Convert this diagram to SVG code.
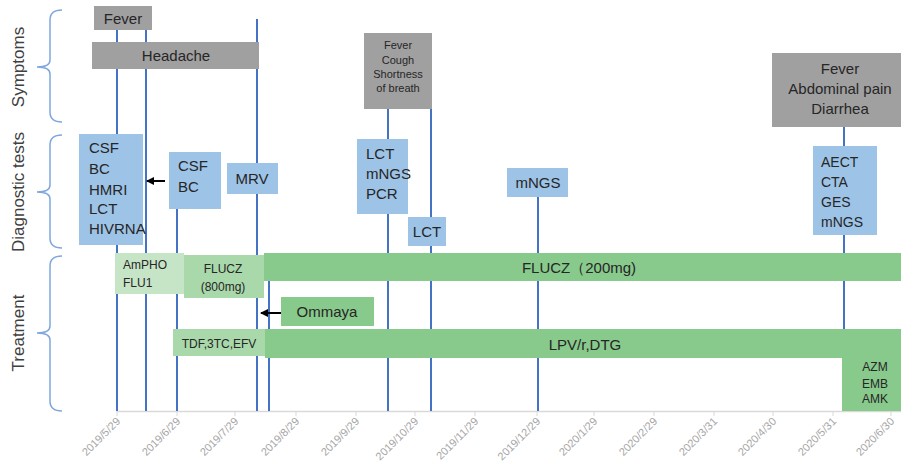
<svg xmlns="http://www.w3.org/2000/svg" width="901" height="466" viewBox="0 0 901 466">
<defs>
<style>
text{font-family:"Liberation Sans","Noto Sans",Arial,sans-serif;fill:#262626}
.sym{fill:#a0a0a0}
.dx{fill:#9dc3e6}
.g1{fill:#c6e4c6}
.g2{fill:#a9d8aa}
.g3{fill:#88c98c}
.vl{stroke:#4472c4;stroke-width:2;fill:none}
.br{stroke:#7ea7de;stroke-width:1.5;fill:none}
.lab{font-size:17px;fill:#404040}
.dt{font-size:11px;fill:#a6a6a6}
.t15{font-size:15px}
.t14{font-size:14px}
.t12{font-size:12px}
.t11{font-size:11px}
</style>
<marker id="ah" markerWidth="8" markerHeight="8" refX="7" refY="4" orient="auto" markerUnits="userSpaceOnUse">
<path d="M0,0 L8,4 L0,8 Z" fill="#000"/>
</marker>
</defs>
<rect width="901" height="466" fill="#fff"/>

<g id="section-labels">
<text class="lab" transform="translate(24,67) rotate(-90)" text-anchor="middle">Symptoms</text>
<text class="lab" transform="translate(24,192) rotate(-90)" text-anchor="middle">Diagnostic tests</text>
<text class="lab" transform="translate(24,333) rotate(-90)" text-anchor="middle">Treatment</text>
<path class="br" d="M62,10 Q50,10 50,20 L50,60 Q50,67 37,67 Q50,67 50,74 L50,112 Q50,122 62,122"/>
<path class="br" d="M62,135 Q50,135 50,145 L50,185 Q50,192 37,192 Q50,192 50,199 L50,238 Q50,248 62,248"/>
<path class="br" d="M62,256 Q50,256 50,266 L50,326 Q50,333 37,333 Q50,333 50,340 L50,401 Q50,411 62,411"/>
</g>

<g id="axis">
<line x1="117" y1="411.5" x2="901" y2="411.5" stroke="#d9d9d9" stroke-width="1.5"/>
<g stroke="#d9d9d9" stroke-width="1">
<line x1="117" y1="411" x2="117" y2="416"/><line x1="177" y1="411" x2="177" y2="416"/><line x1="235" y1="411" x2="235" y2="416"/><line x1="296" y1="411" x2="296" y2="416"/><line x1="356" y1="411" x2="356" y2="416"/><line x1="415" y1="411" x2="415" y2="416"/><line x1="475" y1="411" x2="475" y2="416"/><line x1="537" y1="411" x2="537" y2="416"/><line x1="594" y1="411" x2="594" y2="416"/><line x1="654" y1="411" x2="654" y2="416"/><line x1="714" y1="411" x2="714" y2="416"/><line x1="773" y1="411" x2="773" y2="416"/><line x1="833" y1="411" x2="833" y2="416"/><line x1="891" y1="411" x2="891" y2="416"/>
</g>
<text class="dt" text-anchor="end" transform="translate(121,422) rotate(-45)">2019/5/29</text>
<text class="dt" text-anchor="end" transform="translate(181,422) rotate(-45)">2019/6/29</text>
<text class="dt" text-anchor="end" transform="translate(239,422) rotate(-45)">2019/7/29</text>
<text class="dt" text-anchor="end" transform="translate(300,422) rotate(-45)">2019/8/29</text>
<text class="dt" text-anchor="end" transform="translate(360,422) rotate(-45)">2019/9/29</text>
<text class="dt" text-anchor="end" transform="translate(419,422) rotate(-45)">2019/10/29</text>
<text class="dt" text-anchor="end" transform="translate(479,422) rotate(-45)">2019/11/29</text>
<text class="dt" text-anchor="end" transform="translate(541,422) rotate(-45)">2019/12/29</text>
<text class="dt" text-anchor="end" transform="translate(598,422) rotate(-45)">2020/1/29</text>
<text class="dt" text-anchor="end" transform="translate(658,422) rotate(-45)">2020/2/29</text>
<text class="dt" text-anchor="end" transform="translate(718,422) rotate(-45)">2020/3/31</text>
<text class="dt" text-anchor="end" transform="translate(777,422) rotate(-45)">2020/4/30</text>
<text class="dt" text-anchor="end" transform="translate(837,422) rotate(-45)">2020/5/31</text>
<text class="dt" text-anchor="end" transform="translate(895,422) rotate(-45)">2020/6/30</text>
</g>

<g id="connectors">
<line class="vl" x1="117" y1="30" x2="117" y2="411"/>
<line class="vl" x1="146" y1="30" x2="146" y2="411"/>
<line class="vl" x1="177" y1="209" x2="177" y2="411"/>
<line class="vl" x1="257" y1="19" x2="257" y2="411"/>
<line class="vl" x1="269" y1="253" x2="269" y2="411"/>
<line class="vl" x1="388" y1="109" x2="388" y2="411"/>
<line class="vl" x1="431" y1="109" x2="431" y2="411"/>
<line class="vl" x1="538" y1="197" x2="538" y2="411"/>
<line class="vl" x1="844" y1="127" x2="844" y2="411"/>
<line x1="165" y1="181" x2="147" y2="181" stroke="#000" stroke-width="2" marker-end="url(#ah)"/>
<line x1="281" y1="313" x2="261" y2="313" stroke="#000" stroke-width="2" marker-end="url(#ah)"/>
</g>

<g id="fever1"><rect class="sym" x="94" y="6" width="58" height="24"/><text class="t15" x="123" y="24" text-anchor="middle">Fever</text></g>
<g id="headache"><rect class="sym" x="92" y="42" width="167" height="27"/><text class="t15" x="176" y="61" text-anchor="middle">Headache</text></g>
<g id="fever2"><rect class="sym" x="364" y="33" width="68" height="76"/>
<text class="t11" x="398" y="49" text-anchor="middle">Fever</text>
<text class="t11" x="398" y="64" text-anchor="middle">Cough</text>
<text class="t11" x="398" y="78" text-anchor="middle">Shortness</text>
<text class="t11" x="398" y="92" text-anchor="middle">of breath</text></g>
<g id="fever3"><rect class="sym" x="772" y="53" width="129" height="74"/>
<text class="t15" x="840" y="74" text-anchor="middle">Fever</text>
<text class="t15" x="840" y="94" text-anchor="middle">Abdominal pain</text>
<text class="t15" x="840" y="114" text-anchor="middle">Diarrhea</text></g>

<g id="dx1"><rect class="dx" x="79" y="134" width="64" height="111"/>
<text class="t15" x="89" y="153">CSF</text>
<text class="t15" x="89" y="174">BC</text>
<text class="t15" x="89" y="195">HMRI</text>
<text class="t15" x="89" y="214">LCT</text>
<text class="t15" x="89" y="234">HIVRNA</text></g>
<g id="dx2"><rect class="dx" x="169" y="152" width="52" height="57"/>
<text class="t15" x="178" y="171">CSF</text>
<text class="t15" x="178" y="192">BC</text></g>
<g id="dx3"><rect class="dx" x="227" y="163" width="51" height="31"/><text class="t15" x="252" y="184" text-anchor="middle">MRV</text></g>
<g id="dx4"><rect class="dx" x="357" y="139" width="51" height="75"/>
<text class="t15" x="366" y="159">LCT</text>
<text class="t15" x="366" y="179">mNGS</text>
<text class="t15" x="366" y="199">PCR</text></g>
<g id="dx5"><rect class="dx" x="408" y="217" width="38" height="29"/><text class="t15" x="427" y="237" text-anchor="middle">LCT</text></g>
<g id="dx6"><rect class="dx" x="507" y="168" width="61" height="29"/><text class="t15" x="538" y="188" text-anchor="middle">mNGS</text></g>
<g id="dx7"><rect class="dx" x="813" y="146" width="64" height="89"/>
<text class="t14" x="821" y="167">AECT</text>
<text class="t14" x="821" y="187">CTA</text>
<text class="t14" x="821" y="207">GES</text>
<text class="t14" x="821" y="227">mNGS</text></g>

<g id="tx-flucz200"><rect class="g3" x="264" y="253" width="637" height="28"/><text class="t15" x="579" y="273" text-anchor="middle">FLUCZ（200mg)</text></g>
<g id="tx-ampho"><rect class="g1" x="115" y="253" width="69" height="41"/>
<text class="t12" x="123" y="269">AmPHO</text>
<text class="t12" x="123" y="287">FLU1</text></g>
<g id="tx-flucz800"><rect class="g2" x="184" y="255" width="80" height="43"/>
<text class="t12" x="223" y="273" text-anchor="middle">FLUCZ</text>
<text class="t12" x="223" y="291" text-anchor="middle">(800mg)</text></g>
<g id="tx-ommaya"><rect class="g3" x="281" y="297" width="93" height="29"/><text class="t15" x="327" y="317" text-anchor="middle">Ommaya</text></g>
<g id="tx-tdf"><rect class="g2" x="173" y="329" width="92" height="27"/><text class="t12" x="219" y="348" text-anchor="middle">TDF,3TC,EFV</text></g>
<g id="tx-lpv"><rect class="g3" x="265" y="329" width="636" height="29"/><text class="t15" x="585" y="350" text-anchor="middle">LPV/r,DTG</text></g>
<g id="tx-azm"><rect class="g3" x="842" y="358" width="59" height="53"/>
<text class="t12" x="875" y="371" text-anchor="middle">AZM</text>
<text class="t12" x="875" y="388" text-anchor="middle">EMB</text>
<text class="t12" x="875" y="403" text-anchor="middle">AMK</text></g>
</svg>
